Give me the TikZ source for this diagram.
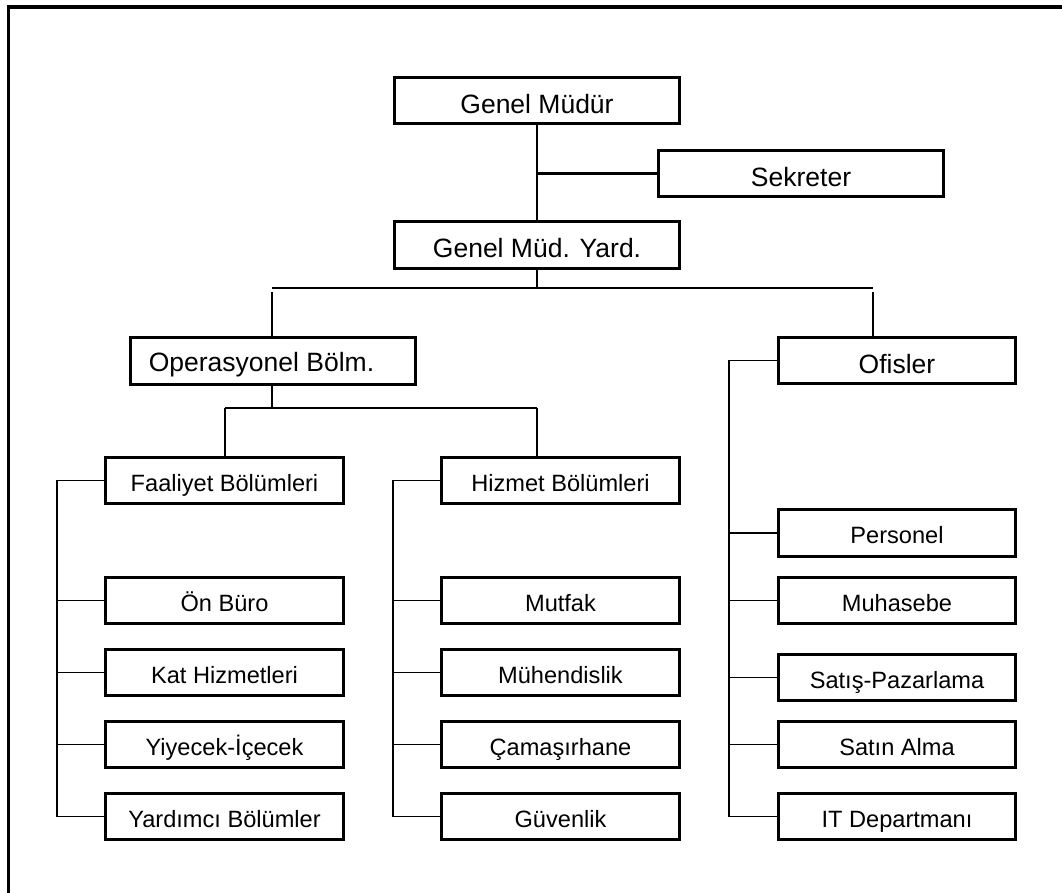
\documentclass[tikz,border=0pt]{standalone}
\usepackage{fontspec}
\setmainfont{Liberation Sans}
\begin{document}
\begin{tikzpicture}[x=1pt,y=-1pt,
  box/.style={draw,line width=3pt,minimum height=46.7pt,inner sep=0pt,anchor=center},
  bigtext/.style={font=\fontsize{26.5}{30}\selectfont,text height=26pt,text depth=0pt},
  midtext/.style={font=\fontsize{23.6}{27}\selectfont,text height=21.2pt,text depth=0pt},
  big/.style={box,minimum width=285pt,bigtext},
  mid/.style={box,minimum width=238pt,midtext},
  ofb/.style={box,minimum width=237pt,midtext},
  ofbig/.style={box,minimum width=237pt,bigtext},
  conn/.style={line width=1.8pt},
  frame/.style={line width=3.4pt}]
\useasboundingbox (0,0) rectangle (1062,893);
\draw[frame] (8.3,893) -- (8.3,7) -- (1062,7);
% top level
\node[big] (gm) at (537,100.5) {Genel Müdür};
\node[big] (sek) at (801,173.5) {Sekreter};
\node[big] (gmy) at (537,245) {Genel Müd. Yard.};
\node[big,text height=21.4pt] (op) at (272.5,361) {Operasyonel Bölm.\hspace*{22pt}};
\node[ofbig] (of) at (897,360.5) {Ofisler};
% second level
\node[mid] (fa) at (224.5,480.5) {Faaliyet Bölümleri};
\node[mid] (hz) at (560.5,480.5) {Hizmet Bölümleri};
% Faaliyet children
\node[mid] (onb) at (224.5,600.5) {Ön Büro};
\node[mid] (kat) at (224.5,672.5) {Kat Hizmetleri};
\node[mid] (yiy) at (224.5,744.5) {Yiyecek-İçecek};
\node[mid] (yar) at (224.5,816.5) {Yardımcı Bölümler};
% Hizmet children
\node[mid] (mut) at (560.5,600.5) {Mutfak};
\node[mid] (muh) at (560.5,672.5) {Mühendislik};
\node[mid] (cam) at (560.5,744.5) {Çamaşırhane};
\node[mid] (guv) at (560.5,816.5) {Güvenlik};
% Ofisler children
\node[ofb] (per) at (897,532.7) {Personel};
\node[ofb] (mhs) at (897,600.5) {Muhasebe};
\node[ofb] (sat) at (897,677.5) {Satış-Pazarlama};
\node[ofb] (sal) at (897,744.5) {Satın Alma};
\node[ofb] (itd) at (897,816.5) {IT Departmanı};
% connectors
\coordinate (sj) at (537,173.5);
\draw[conn] (gm.south) -- (gmy.north);
\draw[line width=2.2pt] (sj) -- (sek.west);
\coordinate (bm) at (537,288);
\coordinate (bl) at (272,288);
\coordinate (br) at (873,288);
\coordinate (dl) at (272,292);
\coordinate (dr) at (873,292);
\draw[conn] (gmy.south) -- (bm);
\draw[line width=2.2pt] (bl) -- (br);
\draw[conn] (dl) -- (dl |- op.north);
\draw[conn] (dr) -- (dr |- of.north);
\coordinate (om) at (272,408);
\coordinate (ol) at (225,408);
\coordinate (or) at (537,408);
\draw[conn] (om |- op.south) -- (om);
\draw[conn] (ol) -- (or);
\draw[conn] (ol) -- (ol |- fa.north);
\draw[conn] (or) -- (or |- hz.north);
% Faaliyet spine
\coordinate (fx) at (57,0);
\draw[conn] (fa.west) -- (fx |- fa.west) -- (fx |- yar.west) -- (yar.west);
\foreach \n in {onb,kat,yiy} \draw[conn] (fx |- \n.west) -- (\n.west);
% Hizmet spine
\coordinate (hx) at (393,0);
\draw[conn] (hz.west) -- (hx |- hz.west) -- (hx |- guv.west) -- (guv.west);
\foreach \n in {mut,muh,cam} \draw[conn] (hx |- \n.west) -- (\n.west);
% Ofisler spine
\coordinate (ox) at (729,0);
\draw[conn] (of.west) -- (ox |- of.west) -- (ox |- itd.west) -- (itd.west);
\foreach \n in {per,mhs,sat,sal} \draw[conn] (ox |- \n.west) -- (\n.west);
\end{tikzpicture}
\end{document}
